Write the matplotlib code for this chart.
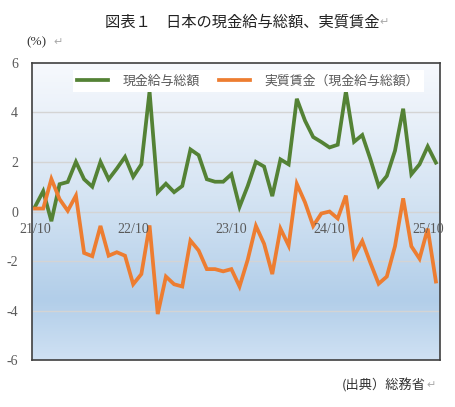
import matplotlib.pyplot as plt
import numpy as np
from matplotlib.colors import LinearSegmentedColormap

plt.rcParams['font.family'] = ['Noto Sans CJK JP', 'DejaVu Sans']

# monthly, 2021/10 - 2025/11 (%, yoy)
nominal = [0.19, 0.82, -0.39, 1.1, 1.19, 2.0, 1.3, 1.0, 2.0, 1.3, 1.73, 2.2,
           1.4, 1.9, 4.84, 0.78, 1.12, 0.78, 1.03, 2.5, 2.27, 1.3, 1.2, 1.2,
           1.5, 0.19, 1.03, 2.0, 1.81, 0.62, 2.1, 1.9, 4.54, 3.66, 3.0, 2.8,
           2.58, 2.69, 4.84, 2.81, 3.08, 2.1, 1.03, 1.43, 2.45, 4.14, 1.5, 1.9,
           2.62, 1.97]
real = [0.12, 0.12, 1.31, 0.5, 0.03, 0.64, -1.67, -1.8, -0.58, -1.78, -1.64, -1.78,
        -2.93, -2.52, -0.56, -4.13, -2.62, -2.93, -3.02, -1.17, -1.57, -2.32, -2.32, -2.41,
        -2.32, -3.02, -1.94, -0.58, -1.3, -2.52, -0.69, -1.37, 1.11, 0.37, -0.58, -0.08,
        0.0, -0.28, 0.64, -1.8, -1.19, -2.07, -2.91, -2.62, -1.4, 0.53, -1.4, -1.9,
        -0.69, -2.82]
x_labels = ['21/10', '22/10', '23/10', '24/10', '25/10']
x_label_pos = [0, 12, 24, 36, 48]
y_ticks = [-6, -4, -2, 0, 2, 4, 6]
series_names = ['現金給与総額', '実質賃金（現金給与総額）']

gray = '#595959'
serif = 'Liberation Serif'

fig = plt.figure(figsize=(4.55, 4.07), dpi=100)
ax = fig.add_axes([0.0703, 0.1143, 0.8967, 0.732])

x = np.arange(len(nominal))
ax.set_xlim(-0.37, 49.5)
ax.set_ylim(-6, 6)

# background gradient (top -> bottom)
cmap = LinearSegmentedColormap.from_list(
    'bg', [(0, '#f7f9fd'), (0.45, '#d5e4f3'), (0.8, '#b2cee9'), (1.0, '#cfe1f3')])
grad = np.linspace(0, 1, 256).reshape(-1, 1)
ax.imshow(grad, cmap=cmap, aspect='auto', extent=[0, 1, 0, 1],
          transform=ax.transAxes, zorder=0)

for t in y_ticks[1:-1]:
    ax.axhline(t, color='#d4d4d4', lw=1, zorder=1)

l1, = ax.plot(x, nominal, color='#548235', lw=2.7, zorder=3, solid_joinstyle='miter')
l2, = ax.plot(x, real, color='#ed7d31', lw=2.7, zorder=3, solid_joinstyle='miter')

ax.set_yticks(y_ticks)
ax.set_yticklabels([str(t) for t in y_ticks], fontfamily=serif, fontsize=10, color=gray)
ax.tick_params(axis='y', length=0, pad=10)
ax.set_xticks([])

for p, lab in zip(x_label_pos, x_labels):
    ax.text(p, -0.45, lab, ha='center', va='top', fontfamily=serif,
            fontsize=10, color=gray, zorder=4)

for s in ax.spines.values():
    s.set_color('#404040')
    s.set_linewidth(1.2)

leg = ax.legend([l1, l2], series_names, loc='upper center', bbox_to_anchor=(0.53, 0.975),
                ncol=2, frameon=True, fancybox=False, edgecolor='white',
                framealpha=1, fontsize=9.3, handlelength=2.4, columnspacing=1.5,
                borderpad=0.35, borderaxespad=0, handletextpad=1.1)
leg.get_frame().set_linewidth(0)
for t in leg.get_texts():
    t.set_color(gray)

fig.text(0.533, 0.945, '図表１　日本の現金給与総額、実質賃金', ha='center', va='center',
         fontsize=11, color='#222222')
fig.text(0.835, 0.945, '↵', ha='left', va='center', fontsize=8, color='#aaaaaa',
         fontfamily='DejaVu Sans')
fig.text(0.058, 0.897, '(%)', ha='left', va='center', fontsize=9.5,
         fontfamily=serif, color='#333333')
fig.text(0.118, 0.897, '↵', ha='left', va='center', fontsize=8, color='#aaaaaa',
         fontfamily='DejaVu Sans')
fig.text(0.935, 0.054, '(出典）総務省', ha='right', va='center', fontsize=9.5,
         color='#333333')
fig.text(0.937, 0.054, '↵', ha='left', va='center', fontsize=8, color='#aaaaaa',
         fontfamily='DejaVu Sans')

fig.savefig('out.png', dpi=100)
